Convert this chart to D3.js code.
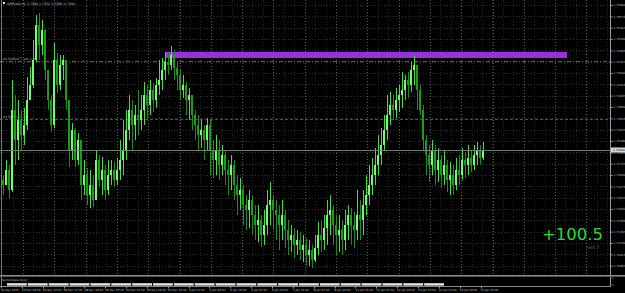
<!DOCTYPE html>
<html><head><meta charset="utf-8">
<script src="https://cdn.jsdelivr.net/npm/d3@7"></script>
<style>
html,body{margin:0;padding:0;background:#000;overflow:hidden}
svg{display:block}
text{font-family:"DejaVu Sans",sans-serif}
</style></head><body>
<div id="chart"></div>
<script>
// chart values
const symbol = "GBPCAD,H1";
const firstOpen = 1.7240;
const closes = [
1.7230,1.7260,1.7220,1.7380,1.7320,1.7360,1.7330,1.7350,1.7400,1.7430,
1.7480,1.7550,1.7510,1.7540,1.7460,1.7400,1.7350,1.7480,1.7430,1.7470,
1.7480,1.7400,1.7300,1.7340,1.7280,1.7320,1.7230,1.7250,1.7210,1.7230,
1.7200,1.7280,1.7240,1.7260,1.7220,1.7250,1.7260,1.7240,1.7260,1.7280,
1.7300,1.7340,1.7380,1.7350,1.7370,1.7360,1.7380,1.7410,1.7390,1.7420,
1.7400,1.7430,1.7440,1.7460,1.7476,1.7470,1.7490,1.7464,1.7450,1.7420,
1.7430,1.7400,1.7410,1.7370,1.7350,1.7330,1.7340,1.7320,1.7350,1.7300,
1.7280,1.7300,1.7270,1.7290,1.7260,1.7250,1.7270,1.7230,1.7210,1.7220,
1.7190,1.7180,1.7200,1.7170,1.7150,1.7160,1.7130,1.7150,1.7190,1.7200,
1.7180,1.7170,1.7150,1.7170,1.7140,1.7120,1.7130,1.7110,1.7120,1.7100,
1.7110,1.7090,1.7100,1.7080,1.7104,1.7130,1.7120,1.7144,1.7170,1.7180,
1.7150,1.7130,1.7140,1.7120,1.7150,1.7170,1.7150,1.7140,1.7170,1.7160,
1.7190,1.7210,1.7230,1.7250,1.7270,1.7290,1.7310,1.7340,1.7370,1.7390,
1.7380,1.7400,1.7410,1.7420,1.7440,1.7430,1.7460,1.7470,1.7420,1.7380,
1.7320,1.7290,1.7270,1.7300,1.7260,1.7280,1.7250,1.7270,1.7240,1.7250,
1.7230,1.7260,1.7250,1.7280,1.7270,1.7284,1.7270,1.7290,1.7300,1.7284,
1.7300];
const highs = [
1.7250,1.7280,1.7270,1.7440,1.7410,1.7400,1.7380,1.7384,1.7446,1.7466,
1.7520,1.7570,1.7574,1.7560,1.7520,1.7460,1.7410,1.7514,1.7494,1.7490,
1.7490,1.7480,1.7400,1.7354,1.7344,1.7334,1.7320,1.7280,1.7264,1.7260,
1.7250,1.7300,1.7290,1.7286,1.7270,1.7280,1.7280,1.7276,1.7284,1.7320,
1.7360,1.7380,1.7410,1.7400,1.7390,1.7420,1.7410,1.7436,1.7430,1.7440,
1.7434,1.7444,1.7480,1.7484,1.7496,1.7492,1.7508,1.7500,1.7476,1.7460,
1.7450,1.7436,1.7424,1.7410,1.7380,1.7370,1.7360,1.7350,1.7364,1.7360,
1.7320,1.7330,1.7320,1.7310,1.7300,1.7280,1.7290,1.7280,1.7250,1.7244,
1.7230,1.7210,1.7220,1.7210,1.7190,1.7190,1.7170,1.7180,1.7220,1.7236,
1.7210,1.7200,1.7190,1.7200,1.7180,1.7160,1.7150,1.7144,1.7140,1.7136,
1.7130,1.7124,1.7120,1.7110,1.7130,1.7156,1.7160,1.7170,1.7200,1.7210,
1.7190,1.7170,1.7170,1.7160,1.7180,1.7190,1.7184,1.7176,1.7220,1.7200,
1.7220,1.7250,1.7270,1.7284,1.7304,1.7330,1.7344,1.7370,1.7410,1.7416,
1.7410,1.7424,1.7430,1.7456,1.7450,1.7456,1.7476,1.7488,1.7460,1.7430,
1.7390,1.7330,1.7310,1.7320,1.7310,1.7304,1.7290,1.7300,1.7280,1.7276,
1.7270,1.7284,1.7290,1.7304,1.7296,1.7310,1.7300,1.7310,1.7316,1.7310,
1.7316];
const lows = [
1.7210,1.7230,1.7204,1.7216,1.7270,1.7280,1.7300,1.7310,1.7340,1.7400,
1.7424,1.7476,1.7480,1.7490,1.7440,1.7380,1.7336,1.7344,1.7414,1.7420,
1.7440,1.7380,1.7266,1.7280,1.7266,1.7270,1.7200,1.7210,1.7190,1.7184,
1.7186,1.7200,1.7226,1.7210,1.7200,1.7210,1.7230,1.7226,1.7230,1.7240,
1.7250,1.7280,1.7320,1.7300,1.7320,1.7330,1.7340,1.7350,1.7364,1.7370,
1.7376,1.7384,1.7410,1.7420,1.7440,1.7450,1.7460,1.7440,1.7420,1.7400,
1.7404,1.7370,1.7360,1.7340,1.7320,1.7300,1.7304,1.7280,1.7300,1.7250,
1.7244,1.7250,1.7240,1.7250,1.7230,1.7210,1.7220,1.7200,1.7170,1.7180,
1.7150,1.7140,1.7144,1.7130,1.7120,1.7116,1.7106,1.7110,1.7130,1.7150,
1.7140,1.7120,1.7100,1.7120,1.7104,1.7090,1.7096,1.7084,1.7090,1.7080,
1.7076,1.7070,1.7068,1.7064,1.7076,1.7090,1.7096,1.7100,1.7110,1.7130,
1.7110,1.7090,1.7096,1.7090,1.7100,1.7120,1.7110,1.7104,1.7120,1.7120,
1.7130,1.7170,1.7190,1.7210,1.7230,1.7250,1.7270,1.7300,1.7320,1.7350,
1.7360,1.7364,1.7376,1.7384,1.7400,1.7404,1.7416,1.7430,1.7380,1.7370,
1.7300,1.7250,1.7236,1.7250,1.7230,1.7236,1.7224,1.7230,1.7216,1.7210,
1.7210,1.7220,1.7230,1.7240,1.7244,1.7250,1.7256,1.7260,1.7270,1.7270,
1.7280];

const priceTicks = [1.75900,1.75673,1.75447,1.75220,1.74993,1.74767,1.74540,1.74313,
  1.74087,1.73860,1.73633,1.73407,1.73180,1.72953,1.72727,1.72500,1.72273,1.72047,
  1.71820,1.71593,1.71367,1.71140,1.70913,1.70687];
const dateLabels = ["22 Dec 2015","23 Dec 23:00","24 Dec 15:00","28 Dec 07:00","28 Dec 23:00",
  "29 Dec 15:00","30 Dec 07:00","30 Dec 23:00","31 Dec 15:00","4 Jan 07:00","4 Jan 23:00",
  "5 Jan 15:00","6 Jan 07:00","6 Jan 23:00","7 Jan 15:00","8 Jan 07:00","8 Jan 23:00",
  "11 Jan 15:00","12 Jan 07:00","12 Jan 23:00","13 Jan 15:00","14 Jan 07:00","14 Jan 23:00",
  "15 Jan 15:00"];

const orderTicket = "#178462477";
const openPrice = 1.7478;
const stopLoss = 1.7362;
const boxPrices = [1.7496, 1.7484];
const boxBars = [54, 188];
const profitMain = "+100.5";
const profitSub = "+63.7";
const indicatorName = "SumVolVelocity(2)";
const velocity = [1,1,1,1,1,1,1,1,1,1,1,1,1,1,1,1,1,1,1,1,1];

const W = 625, H = 293;
const plotRight = 610, plotBottom = 274;

const svg = d3.select("#chart").append("svg")
  .attr("width", W).attr("height", H)
  .style("background", "#000");

const x = d3.scaleLinear().domain([0, closes.length - 1]).range([3, 483]);
const y = d3.scaleLinear().domain([1.7600, 1.7060]).range([0, 270]);
const fmt5 = d3.format(".5f");
const fmt4 = d3.format(".4f");

// grid
const grid = svg.append("g");
grid.selectAll("line.h").data(priceTicks).join("line")
  .attr("x1", 0).attr("x2", plotRight)
  .attr("y1", d => Math.round(y(d)) + 0.5).attr("y2", d => Math.round(y(d)) + 0.5)
  .attr("stroke", "#2c3832").attr("stroke-dasharray", "1,2");
const vDim = d3.range(12.6, plotRight, 10.43);
grid.selectAll("line.vd").data(vDim).join("line")
  .attr("x1", d => Math.round(d) + 0.5).attr("x2", d => Math.round(d) + 0.5)
  .attr("y1", 0).attr("y2", plotBottom)
  .attr("stroke", "#1f2a25").attr("stroke-dasharray", "1,2");
const vBright = d3.range(23, plotRight, 31.3);
grid.selectAll("line.vb").data(vBright).join("line")
  .attr("x1", d => Math.round(d) + 0.5).attr("x2", d => Math.round(d) + 0.5)
  .attr("y1", 0).attr("y2", plotBottom)
  .attr("stroke", "#5c5c5c").attr("stroke-dasharray", "1,2");

// purple rectangle object
svg.append("rect")
  .attr("x", x(boxBars[0])).attr("width", x(boxBars[1]) - x(boxBars[0]))
  .attr("y", y(boxPrices[0])).attr("height", y(boxPrices[1]) - y(boxPrices[0]))
  .attr("fill", "#9a2fe0");

// order lines
svg.append("line").attr("x1", 0).attr("x2", plotRight)
  .attr("y1", Math.round(y(openPrice)) + 0.5).attr("y2", Math.round(y(openPrice)) + 0.5)
  .attr("stroke", "#2f7a2f").attr("stroke-dasharray", "4,2,1,2");
svg.append("line").attr("x1", 0).attr("x2", plotRight)
  .attr("y1", Math.round(y(stopLoss)) + 0.5).attr("y2", Math.round(y(stopLoss)) + 0.5)
  .attr("stroke", "#c02424").attr("stroke-dasharray", "3,2");
svg.append("text").attr("x", 3).attr("y", y(openPrice) - 1.2)
  .attr("font-size", 3).attr("fill", "#b0b0b0").text(orderTicket + " sell 1.00");
svg.append("text").attr("x", 3).attr("y", y(stopLoss) - 1.2)
  .attr("font-size", 3).attr("fill", "#b0b0b0").text(orderTicket + " sl");

// candles
const bars = closes.map((c, i) => {
  const o = i === 0 ? firstOpen : closes[i - 1];
  return { i, o, c, h: Math.max(highs[i], o, c), l: Math.min(lows[i], o, c) };
});
const candles = svg.append("g").selectAll("g").data(bars).join("g");
candles.append("rect")
  .attr("x", d => Math.round(x(d.i))).attr("width", 1)
  .attr("y", d => y(d.h)).attr("height", d => Math.max(1, y(d.l) - y(d.h)))
  .attr("fill", d => d.c >= d.o ? "#3fe03f" : "#1b8f1b");
candles.append("rect")
  .attr("x", d => Math.round(x(d.i)) - 1).attr("width", 2)
  .attr("y", d => y(Math.max(d.o, d.c)))
  .attr("height", d => Math.max(1, Math.abs(y(d.o) - y(d.c))))
  .attr("fill", d => d.c >= d.o ? "#6dff6d" : "#15a015");

// bid line
const last = bars[bars.length - 1];
svg.append("line").attr("x1", 0).attr("x2", plotRight)
  .attr("y1", Math.round(y(last.c)) + 0.5).attr("y2", Math.round(y(last.c)) + 0.5)
  .attr("stroke", "#6f7f74").attr("stroke-width", 1);

// profit text
svg.append("text").attr("x", 603).attr("y", 240).attr("text-anchor", "end")
  .attr("font-family", "Liberation Sans, Arial, sans-serif")
  .attr("font-size", 16.5).attr("fill", "#33d633").text(profitMain);
svg.append("text").attr("x", 599).attr("y", 248.5).attr("text-anchor", "end")
  .attr("font-size", 4.5).attr("fill", "#22a822").text(profitSub);

// title
svg.append("rect").attr("x", 3).attr("y", 2).attr("width", 2).attr("height", 2).attr("fill", "#ddd");
svg.append("text").attr("x", 7).attr("y", 4.6).attr("font-size", 3.2).attr("fill", "#c8c8c8")
  .text(`${symbol}  ${fmt4(last.o)} ${fmt4(last.h)} ${fmt4(last.l)} ${fmt4(last.c)}`);

// price axis
const axis = svg.append("g").attr("transform", `translate(${plotRight + 0.5},0)`)
  .call(d3.axisRight(y).tickValues(priceTicks).tickSize(2).tickPadding(1).tickFormat(fmt5));
axis.select(".domain").remove();
axis.selectAll("line").attr("stroke", "#a0a0a0");
axis.selectAll("text").attr("font-size", 2.9).attr("fill", "#c0c0c0")
  .attr("font-family", "DejaVu Sans, sans-serif");
svg.append("line").attr("x1", plotRight + 0.5).attr("x2", plotRight + 0.5)
  .attr("y1", 0).attr("y2", 287).attr("stroke", "#9a9a9a");
svg.append("rect").attr("x", plotRight + 1).attr("y", y(last.c) - 2.5)
  .attr("width", 14).attr("height", 5).attr("fill", "#d8d8d8");
svg.append("text").attr("x", plotRight + 3).attr("y", y(last.c) + 1)
  .attr("font-size", 2.9).attr("fill", "#000").text(fmt5(last.c));

// indicator sub window
svg.append("rect").attr("x", 0).attr("y", 275).attr("width", W).attr("height", 1.6).attr("fill", "#8a8a8a");
svg.append("line").attr("x1", 0).attr("x2", plotRight + 1).attr("y1", 286.5).attr("y2", 286.5).attr("stroke", "#8a8a8a");
svg.append("text").attr("x", 2).attr("y", 281.3).attr("font-size", 2.8).attr("fill", "#c0c0c0").text(indicatorName);
const vb = d3.scaleBand().domain(d3.range(velocity.length)).range([7, 444]).paddingInner(0.05);
const vy = d3.scaleLinear().domain([0, 1]).range([285.6, 283.2]);
svg.append("g").selectAll("rect").data(velocity).join("rect")
  .attr("x", (d, i) => vb(i)).attr("width", vb.bandwidth())
  .attr("y", d => vy(d)).attr("height", d => vy(0) - vy(d))
  .attr("fill", "#e6e6e6");
svg.append("text").attr("x", 612).attr("y", 279).attr("font-size", 2.6).attr("fill", "#bbb").text("1");
svg.append("text").attr("x", 612).attr("y", 285.5).attr("font-size", 2.6).attr("fill", "#bbb").text("0");

// left frame
svg.append("line").attr("x1", 1.5).attr("x2", 1.5).attr("y1", 0).attr("y2", 287).attr("stroke", "#7a7a7a");

// date axis
const dx = d3.scaleLinear().domain([0, dateLabels.length - 1]).range([1, 480.5]);
svg.append("g").selectAll("text").data(dateLabels).join("text")
  .attr("x", (d, i) => dx(i)).attr("y", 291.3)
  .attr("font-size", 2.8).attr("fill", "#c0c0c0").text(d => d);
svg.append("g").selectAll("line").data(dateLabels).join("line")
  .attr("x1", (d, i) => Math.round(dx(i)) + 0.5).attr("x2", (d, i) => Math.round(dx(i)) + 0.5)
  .attr("y1", 286.5).attr("y2", 288.5).attr("stroke", "#9a9a9a");
</script>
</body></html>
